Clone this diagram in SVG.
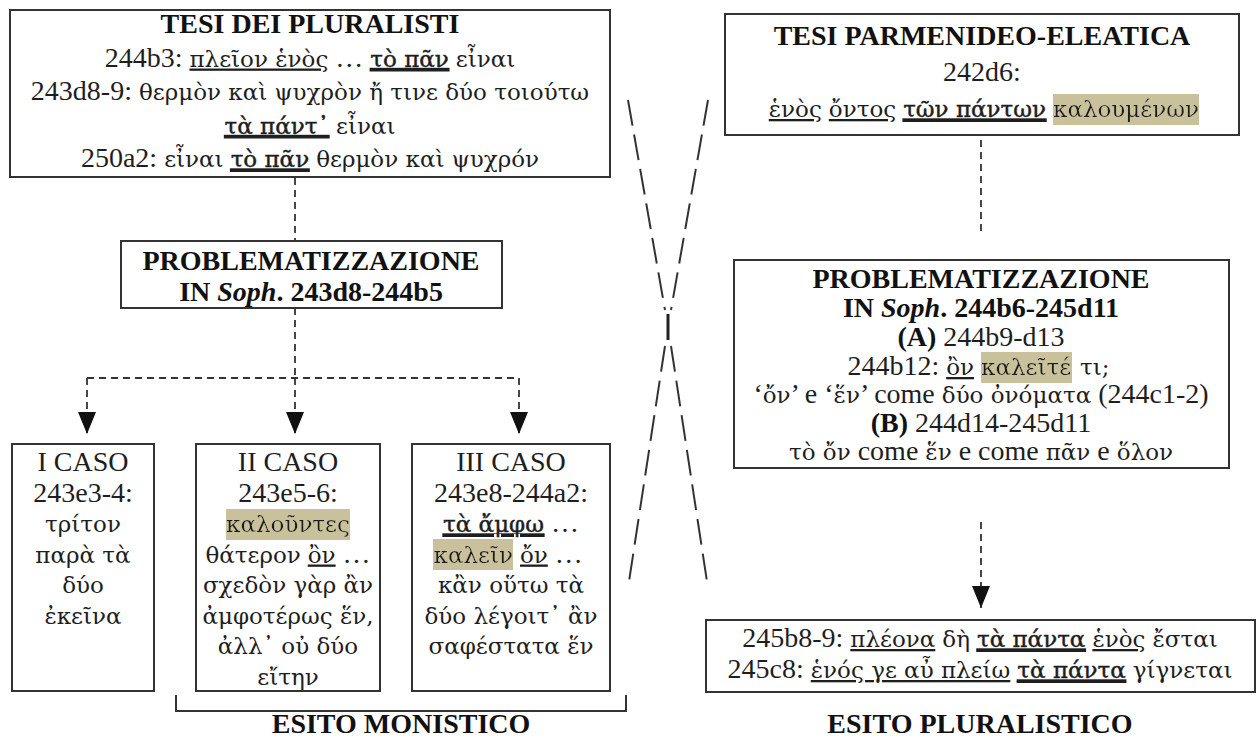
<svg xmlns="http://www.w3.org/2000/svg" width="1259" height="738" viewBox="0 0 1259 738">
<defs>
<style>
.box{fill:#fff;stroke:#333;stroke-width:2}
.t{font-family:"Liberation Serif","Times New Roman",serif;font-size:28px;fill:#1e1e1e;text-anchor:middle}
.s{text-anchor:start}
.e{text-anchor:end}
.g{font-family:"DejaVu Serif","Liberation Serif",serif;font-size:23px}
.b{font-weight:bold;fill:#111}
.i{font-style:italic}
.u{text-decoration:underline}
.uu{text-decoration:underline;stroke:#1e1e1e;stroke-width:1.4}
.uu tspan{stroke-width:0.45}
.dash{fill:none;stroke:#333;stroke-width:1.8;stroke-dasharray:7 5}
.xd{fill:none;stroke:#333;stroke-width:2;stroke-dasharray:26 9}
</style>
<filter id="hl" x="0" y="-0.06" width="1" height="1.14">
<feFlood flood-color="#c9c19c"/>
<feComposite in="SourceGraphic"/>
</filter>
<marker id="ah" markerUnits="userSpaceOnUse" markerWidth="18" markerHeight="22" viewBox="0 0 18 22" refX="9" refY="22" orient="0">
<path d="M0,0 H18 L9,22 Z" fill="#111"/>
</marker>
</defs>
<rect width="1259" height="738" fill="#fff"/>

<g id="connectors">
<path class="dash" d="M295,178 V241"/>
<path class="dash" d="M295,308 V378 M87,378 H519"/>
<path class="dash" d="M87,378 V434" marker-end="url(#ah)"/>
<path class="dash" d="M295,378 V434" marker-end="url(#ah)"/>
<path class="dash" d="M519,378 V434" marker-end="url(#ah)"/>
<path class="dash" d="M981,140 V236"/>
<path class="dash" d="M981,522 V608" marker-end="url(#ah)"/>
<path class="xd" d="M628,100 L665,310"/>
<path class="xd" d="M708,100 L671,310"/>
<path d="M668,314 V340" stroke="#222" stroke-width="3"/>
<path class="xd" d="M665,346 L628,588"/>
<path class="xd" d="M671,346 L708,588"/>
<path d="M176,695 V711 H626 V695" fill="none" stroke="#333" stroke-width="2"/>
</g>

<g id="tesi-pluralisti">
<rect class="box" x="10" y="10" width="600" height="167"/>
<text class="t b" x="310" y="33">TESI DEI PLURALISTI</text>
<text class="t" x="310" y="66.5">244b3: <tspan class="g u">πλεῖον ἑνὸς</tspan> … <tspan class="g uu"><tspan>τὸ πᾶν</tspan></tspan> <tspan class="g">εἶναι</tspan></text>
<text class="t" x="310" y="100">243d8-9: <tspan class="g">θερμὸν καὶ ψυχρὸν ἤ τινε δύο τοιούτω</tspan></text>
<text class="t" x="310" y="133.5"><tspan class="g uu"><tspan>τὰ πάντ᾽</tspan></tspan> <tspan class="g">εἶναι</tspan></text>
<text class="t" x="310" y="167">250a2: <tspan class="g">εἶναι</tspan> <tspan class="g uu"><tspan>τὸ πᾶν</tspan></tspan> <tspan class="g">θερμὸν καὶ ψυχρόν</tspan></text>
</g>

<g id="tesi-parmenideo">
<rect class="box" x="725" y="14" width="514" height="121"/>
<text class="t b" x="982" y="45">TESI PARMENIDEO-ELEATICA</text>
<text class="t" x="982" y="81">242d6:</text>
<text class="t e" x="1046" y="117"><tspan class="g u">ἑνὸς</tspan> <tspan class="g u">ὄντος</tspan> <tspan class="g uu"><tspan>τῶν πάντων</tspan></tspan></text>
<text class="t g s" x="1053" y="117" filter="url(#hl)">καλουμένων</text>
</g>

<g id="problematizzazione-1">
<rect class="box" x="121" y="241" width="381" height="67"/>
<text class="t b" x="311" y="270">PROBLEMATIZZAZIONE</text>
<text class="t b" x="311" y="301">IN <tspan class="i">Soph</tspan>. 243d8-244b5</text>
</g>

<g id="problematizzazione-2">
<rect class="box" x="734" y="260" width="495" height="208"/>
<text class="t b" x="981" y="288">PROBLEMATIZZAZIONE</text>
<text class="t b" x="981" y="317">IN <tspan class="i">Soph</tspan>. 244b6-245d11</text>
<text class="t" x="981" y="346"><tspan class="b">(A)</tspan> 244b9-d13</text>
<text class="t e" x="974" y="375">244b12: <tspan class="g u">ὂν</tspan></text>
<text class="t g s" x="981" y="375" filter="url(#hl)">καλεῖτέ</text>
<text class="t s" x="1080" y="375"><tspan class="g">τι;</tspan></text>
<text class="t" x="981" y="403">‘<tspan class="g">ὄν</tspan>’ e ‘<tspan class="g">ἕν</tspan>’ come <tspan class="g">δύο ὀνόματα</tspan> (244c1-2)</text>
<text class="t" x="981" y="432"><tspan class="b">(B)</tspan> 244d14-245d11</text>
<text class="t" x="981" y="460"><tspan class="g">τὸ ὄν</tspan> come <tspan class="g">ἕν</tspan> e come <tspan class="g">πᾶν</tspan> e <tspan class="g">ὅλον</tspan></text>
</g>

<g id="caso-1">
<rect class="box" x="12" y="444" width="142" height="247"/>
<text class="t" x="83" y="471">I CASO</text>
<text class="t" x="83" y="501.5">243e3-4:</text>
<text class="t g" x="83" y="532">τρίτον</text>
<text class="t g" x="83" y="562.5">παρὰ τὰ</text>
<text class="t g" x="83" y="593">δύο</text>
<text class="t g" x="83" y="623.5">ἐκεῖνα</text>
</g>

<g id="caso-2">
<rect class="box" x="196" y="444" width="184" height="247"/>
<text class="t" x="288" y="471">II CASO</text>
<text class="t" x="288" y="501.5">243e5-6:</text>
<text class="t g" x="288" y="532" filter="url(#hl)">καλοῦντες</text>
<text class="t" x="288" y="562.5"><tspan class="g">θάτερον</tspan> <tspan class="g u">ὂν</tspan> …</text>
<text class="t g" x="288" y="593">σχεδὸν γὰρ ἂν</text>
<text class="t g" x="288" y="623.5">ἀμφοτέρως ἕν,</text>
<text class="t g" x="288" y="654">ἀλλ᾽ οὐ δύο</text>
<text class="t g" x="288" y="684.5">εἴτην</text>
</g>

<g id="caso-3">
<rect class="box" x="412" y="444" width="198" height="247"/>
<text class="t" x="511" y="471">III CASO</text>
<text class="t" x="511" y="501.5">243e8-244a2:</text>
<text class="t" x="511" y="532"><tspan class="g uu"><tspan>τὰ ἄμφω</tspan></tspan> …</text>
<text class="t g e" x="513" y="562.5" filter="url(#hl)">καλεῖν</text>
<text class="t s" x="520" y="562.5"><tspan class="g u">ὄν</tspan> …</text>
<text class="t g" x="511" y="593">κἂν οὕτω τὰ</text>
<text class="t g" x="511" y="623.5">δύο λέγοιτ᾽ ἂν</text>
<text class="t g" x="511" y="654">σαφέστατα ἕν</text>
</g>

<g id="esito-pluralistico-box">
<rect class="box" x="706" y="620" width="549" height="72"/>
<text class="t" x="980" y="647">245b8-9: <tspan class="g u">πλέονα</tspan> <tspan class="g">δὴ</tspan> <tspan class="g uu"><tspan>τὰ πάντα</tspan></tspan>  <tspan class="g u">ἑνὸς</tspan> <tspan class="g">ἔσται</tspan></text>
<text class="t" x="980" y="678">245c8: <tspan class="g u">ἑνός γε αὖ πλείω</tspan> <tspan class="g uu"><tspan>τὰ πάντα</tspan></tspan> <tspan class="g">γίγνεται</tspan></text>
</g>

<g id="esito-monistico">
<text class="t b" x="401" y="733">ESITO MONISTICO</text>
</g>
<g id="esito-pluralistico">
<text class="t b" x="980" y="733">ESITO PLURALISTICO</text>
</g>
</svg>
